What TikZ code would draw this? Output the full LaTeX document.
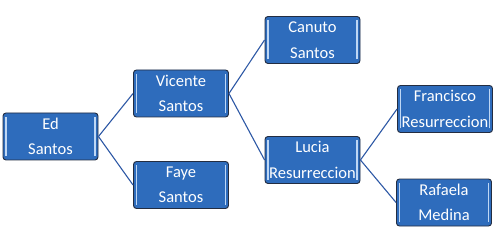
\documentclass[tikz,border=0pt]{standalone}
\usepackage{fontspec}
\setmainfont{Carlito}
\definecolor{boxfill}{RGB}{46,108,188}
\definecolor{boxedge}{RGB}{35,45,65}
\definecolor{bevel}{RGB}{190,215,245}
\definecolor{linkcol}{RGB}{45,88,165}
\begin{document}
\begin{tikzpicture}[x=1pt,y=-1pt,
  person/.style={draw=boxedge, line width=0.9pt, fill=boxfill, rounded corners=3pt,
    minimum width=95pt, minimum height=47pt, inner sep=0pt, text=white, align=center,
    font=\fontsize{16.5}{25.5}\selectfont,
    path picture={
      \draw[bevel, line width=1.2pt]
        ([xshift=3pt,yshift=4pt]path picture bounding box.south west) --
        ([xshift=3pt,yshift=-4pt]path picture bounding box.north west);
      \draw[bevel, line width=1.2pt]
        ([xshift=-3pt,yshift=4pt]path picture bounding box.south east) --
        ([xshift=-3pt,yshift=-4pt]path picture bounding box.north east);
    }},
  link/.style={draw=linkcol, line width=1.1pt}]
\useasboundingbox (0,0) rectangle (500,240);
\node[person] (ed) at (50.5,136.5) {Ed\\Santos};
\node[person] (vic) at (181,93.5) {Vicente\\Santos};
\node[person] (faye) at (181,185) {Faye\\Santos};
\node[person] (can) at (312.5,40) {Canuto\\Santos};
\node[person] (luc) at (312.5,160) {Lucia\\Resurreccion};
\node[person] (fra) at (445,109) {Francisco\\Resurreccion};
\node[person] (raf) at (444,202.5) {Rafaela\\Medina};
\draw[link] (ed.east) -- (vic.west);
\draw[link] (ed.east) -- (faye.west);
\draw[link] (vic.east) -- (can.west);
\draw[link] (vic.east) -- (luc.west);
\draw[link] (luc.east) -- (fra.west);
\draw[link] (luc.east) -- (raf.west);
\end{tikzpicture}
\end{document}
